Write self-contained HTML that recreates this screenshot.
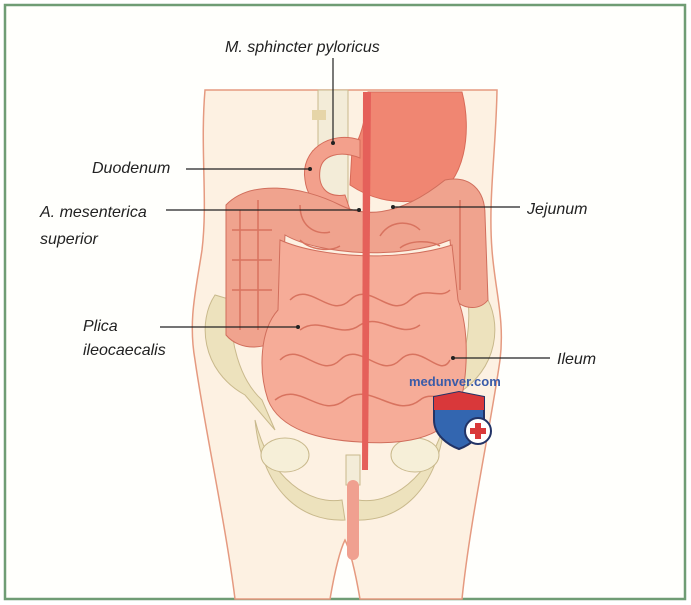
<!DOCTYPE html>
<html><head><style>
html,body{margin:0;padding:0;background:#fff;}
svg{display:block;}
text{font-family:"Liberation Sans",sans-serif;font-style:italic;font-size:16px;fill:#222;}
</style></head><body>
<svg width="691" height="605" viewBox="0 0 691 605" xmlns="http://www.w3.org/2000/svg">
<rect x="5" y="5" width="680" height="594" fill="#fffffc" stroke="#6f9c74" stroke-width="2.5"/>
<!-- body -->
<path d="M205,90 C200,150 208,200 202,250 C196,290 188,320 195,360 C205,430 225,520 235,599 L330,599 C335,570 340,550 345,540 C350,550 355,570 360,599 L462,599 C470,520 490,430 500,360 C505,320 495,290 492,250 C488,200 496,150 497,90 Z" fill="#fdf1e2" stroke="#e59a80" stroke-width="1.5"/>
<!-- pelvis -->
<path d="M215,295 C198,320 200,370 245,395 L275,430 L262,400 C240,380 228,340 232,300 Z" fill="#ede2bd" stroke="#c9b98c"/>
<path d="M485,295 C502,320 500,370 455,395 L425,430 L438,400 C460,380 472,340 468,300 Z" fill="#ede2bd" stroke="#c9b98c"/>
<path d="M255,420 C270,480 310,505 342,500 L345,520 C300,522 262,490 255,420 Z" fill="#ede2bd" stroke="#c9b98c"/>
<path d="M445,420 C430,480 390,505 358,500 L355,520 C400,522 438,490 445,420 Z" fill="#ede2bd" stroke="#c9b98c"/>
<ellipse cx="285" cy="455" rx="24" ry="17" fill="#f6efd8" stroke="#c9b98c"/>
<ellipse cx="415" cy="455" rx="24" ry="17" fill="#f6efd8" stroke="#c9b98c"/>
<!-- spine -->
<rect x="318" y="90" width="30" height="120" fill="#f3ecd8" stroke="#c9b98c"/>
<rect x="312" y="110" width="14" height="10" fill="#e6d5a8"/>
<rect x="312" y="150" width="14" height="10" fill="#e6d5a8"/>
<rect x="346" y="455" width="14" height="30" fill="#f3ecd8" stroke="#c9b98c"/>
<!-- rectum -->
<rect x="347" y="480" width="12" height="80" rx="6" fill="#f0a090"/>
<!-- stomach -->
<path d="M368,92 L462,92 C472,130 466,185 430,198 C400,206 372,200 350,185 L352,150 C360,140 366,120 368,92 Z" fill="#f08672" stroke="#d86a58"/>
<!-- duodenum -->
<path d="M360,140 C330,130 300,150 305,180 C308,205 330,215 350,210 L345,195 C325,198 318,185 320,170 C322,155 340,150 360,158 Z" fill="#f3a08c" stroke="#d46c5a"/>
<!-- colon -->
<path d="M226,205 C250,180 300,185 340,205 C380,225 420,200 445,180 C470,175 485,190 485,215 L488,300 C480,310 465,310 455,300 L450,240 C400,260 320,255 285,235 L280,335 C270,350 240,352 226,335 Z" fill="#f0a38e" stroke="#d06e5c"/>
<!-- small intestine -->
<path d="M280,240 C320,258 400,262 452,245 L458,300 C470,330 468,380 458,410 C442,440 400,445 360,442 C320,440 280,430 268,400 C258,370 260,330 278,310 Z" fill="#f6ac98" stroke="#d06e5c"/>
<g fill="none" stroke="#d8735f" stroke-width="1.5">
<path d="M280,360 C300,340 320,380 340,360 C360,340 380,380 400,360 C420,340 440,380 450,360"/>
<path d="M275,400 C300,380 320,420 345,400 C370,380 395,420 420,400 C430,392 440,400 448,395"/>
<path d="M290,300 C310,280 330,320 350,300 C370,280 390,320 410,300 C425,285 440,300 450,290"/>
<path d="M300,330 C320,315 340,340 360,325 C380,312 400,340 420,325"/>
<path d="M240,210 L240,330 M258,200 L258,330"/>
<path d="M232,230 h40 M232,260 h40 M232,290 h40 M300,205 C300,230 320,235 330,232 M380,236 C390,220 410,220 420,230"/>
<path d="M460,200 v90 M300,240 C310,250 330,252 340,246 M400,248 C410,240 430,240 440,246"/>
</g>
<!-- aorta -->
<path d="M363,92 L371,92 L368,470 L362,470 Z" fill="#e5605a"/>
<!-- lines -->
<g stroke="#222" stroke-width="1.2">
<line x1="333" y1="58" x2="333" y2="143"/>
<line x1="186" y1="169" x2="310" y2="169"/>
<line x1="166" y1="210" x2="359" y2="210"/>
<line x1="393" y1="207" x2="520" y2="207"/>
<line x1="160" y1="327" x2="298" y2="327"/>
<line x1="453" y1="358" x2="550" y2="358"/>
</g>
<g fill="#222"><circle cx="333" cy="143" r="2"/><circle cx="310" cy="169" r="2"/><circle cx="359" cy="210" r="2"/><circle cx="393" cy="207" r="2"/><circle cx="298" cy="327" r="2"/><circle cx="453" cy="358" r="2"/></g>
<text x="225" y="52">M. sphincter pyloricus</text>
<text x="92" y="173">Duodenum</text>
<text x="40" y="217">A. mesenterica</text>
<text x="40" y="244">superior</text>
<text x="527" y="214">Jejunum</text>
<text x="83" y="331">Plica</text>
<text x="83" y="355">ileocaecalis</text>
<text x="557" y="364">Ileum</text>
<!-- watermark -->
<text x="409" y="386" style="font-style:normal;font-weight:bold;font-size:13px;fill:#3a5ba8">medunver.com</text>
<path d="M434,397 L459,392 L484,397 L484,420 C484,435 470,445 459,449 C448,445 434,435 434,420 Z" fill="#3366b0" stroke="#223366" stroke-width="2"/>
<path d="M434,397 L459,392 L484,397 L484,410 L434,410 Z" fill="#d9383a"/>
<circle cx="478" cy="431" r="13" fill="#fff" stroke="#223366" stroke-width="2"/>
<path d="M475,423 h6 v5 h5 v6 h-5 v5 h-6 v-5 h-5 v-6 h5 z" fill="#d9383a"/>
</svg>
</body></html>
